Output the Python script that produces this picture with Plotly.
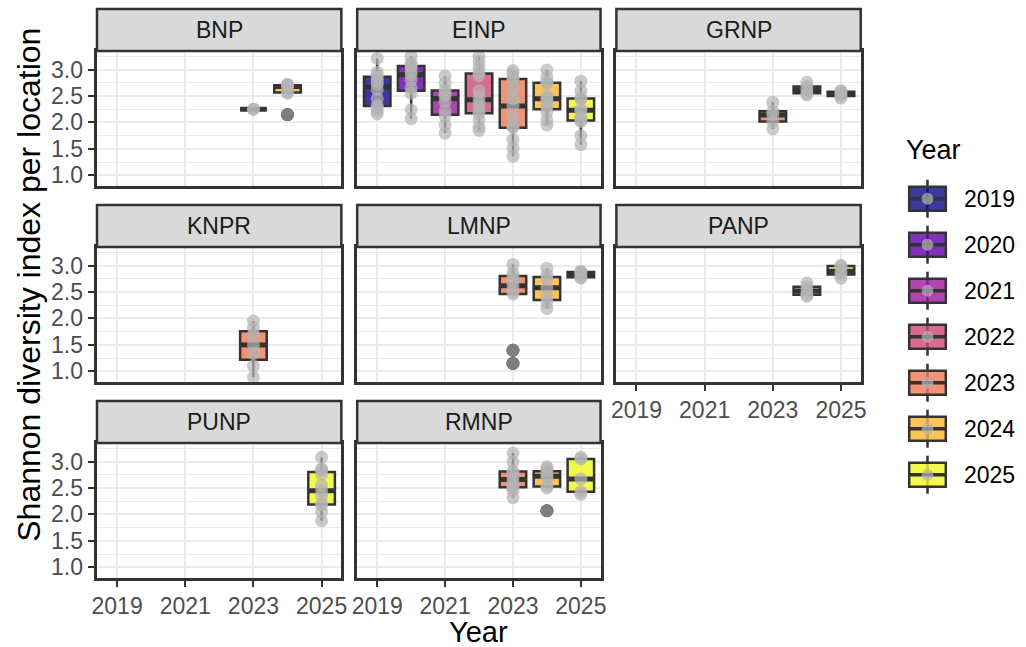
import numpy as np
import plotly.graph_objects as go

# ---- data: Shannon diversity index per sampling location, by park and year ----
YEARS = [2019, 2020, 2021, 2022, 2023, 2024, 2025]
PLASMA = ["#0D0887", "#5D01A6", "#9C179E", "#CC4678", "#ED7953", "#FDB32F", "#F0F921"]
PARKS = ["BNP", "EINP", "GRNP", "KNPR", "LMNP", "PANP", "PUNP", "RMNP"]
X_TICKS = [2019, 2021, 2023, 2025]
Y_TICKS = [1.0, 1.5, 2.0, 2.5, 3.0]

BNP = {2023: [2.25, 2.25],
       2024: [2.15, 2.55, 2.58, 2.68, 2.70, 2.71, 2.72]}
EINP = {2019: [3.21, 2.95, 2.90, 2.85, 2.78, 2.72, 2.62, 2.45, 2.32, 2.28, 2.22, 2.16],
        2020: [3.25, 3.12, 3.08, 3.05, 2.96, 2.90, 2.80, 2.65, 2.55, 2.24, 2.07],
        2021: [2.88, 2.75, 2.62, 2.55, 2.50, 2.40, 2.22, 2.12, 1.95, 1.80],
        2022: [3.25, 3.15, 3.05, 2.94, 2.88, 2.60, 2.48, 2.38, 2.30, 2.22, 2.16, 2.05, 1.92, 1.85],
        2023: [2.98, 2.93, 2.84, 2.82, 2.62, 2.45, 2.31, 2.10, 1.92, 1.90, 1.68, 1.52, 1.36],
        2024: [2.99, 2.85, 2.76, 2.74, 2.50, 2.45, 2.40, 2.30, 2.20, 2.05, 1.95],
        2025: [2.78, 2.60, 2.47, 2.44, 2.25, 2.23, 2.10, 2.05, 2.02, 1.75, 1.58]}
GRNP = {2023: [1.88, 2.02, 2.14, 2.21, 2.38],
        2024: [2.52, 2.55, 2.62, 2.68, 2.76],
        2025: [2.46, 2.50, 2.54, 2.58, 2.60]}
KNPR = {2023: [0.89, 1.10, 1.34, 1.50, 1.70, 1.82, 1.95]}
LMNP = {2023: [1.15, 1.40, 2.46, 2.51, 2.62, 2.70, 2.80, 2.86, 3.02],
        2024: [2.19, 2.30, 2.40, 2.58, 2.75, 2.82, 2.95],
        2025: [2.76, 2.78, 2.85, 2.88, 2.89]}
PANP = {2024: [2.42, 2.45, 2.52, 2.60, 2.67],
        2025: [2.76, 2.83, 2.89, 2.99, 3.00]}
PUNP = {2025: [1.88, 2.05, 2.18, 2.20, 2.35, 2.45, 2.55, 2.76, 2.84, 2.86, 3.08]}
RMNP = {2023: [2.32, 2.45, 2.50, 2.55, 2.62, 2.70, 2.78, 2.82, 2.99, 3.16],
        2024: [2.07, 2.50, 2.54, 2.70, 2.74, 2.80, 2.86, 2.90],
        2025: [2.38, 2.43, 2.67, 3.05, 3.08]}
SHANNON = {"BNP": BNP, "EINP": EINP, "GRNP": GRNP, "KNPR": KNPR,
           "LMNP": LMNP, "PANP": PANP, "PUNP": PUNP, "RMNP": RMNP}

# ---- styling ----
W, H = 1026, 647
FONT = "Liberation Sans, Arial, sans-serif"
DARK = "#333333"
GRID = "#EBEBEB"
TICK_TXT = "#4D4D4D"
POINT = "rgba(179,179,179,0.7)"
PT_SIZE = 13
BOX_W = 0.78
X_RANGE = [2018.41, 2025.58]
Y_RANGE = [0.80, 3.35]
COL_PX = [(93, 340), (356, 602), (618, 865)]
ROW_PX = [(51, 186), (247, 382), (443, 578)]
STRIP_H = 42
Y_LABEL_RIGHT = 81


def rgba(hex_color, a):
    h = hex_color.lstrip("#")
    r, g, b = int(h[0:2], 16), int(h[2:4], 16), int(h[4:6], 16)
    return f"rgba({r},{g},{b},{a})"


def px_x(px):
    return px / W


def px_y(py):
    return 1 - py / H


def box_stats(vals):
    """Tukey box statistics with R's default (type 7) quantiles."""
    v = np.asarray(vals, dtype=float)
    q1, med, q3 = np.percentile(v, [25, 50, 75])
    iqr = q3 - q1
    inside = v[(v >= q1 - 1.5 * iqr) & (v <= q3 + 1.5 * iqr)]
    outliers = v[(v < q1 - 1.5 * iqr) | (v > q3 + 1.5 * iqr)]
    return q1, med, q3, inside.min(), inside.max(), outliers


fig = go.Figure()
layout = dict(width=W, height=H, autosize=False,
              margin=dict(l=0, r=0, t=0, b=0),
              paper_bgcolor="white", plot_bgcolor="white",
              font=dict(family=FONT, color="black"),
              showlegend=False)
shapes, annotations = [], []

for k, park in enumerate(PARKS):
    r, c = divmod(k, 3)
    n = k + 1
    xa, ya = f"x{n}", f"y{n}"
    x0, x1 = COL_PX[c]
    y0, y1 = ROW_PX[r]
    show_x = (r == 2) or (r == 1 and c == 2)
    show_y = (c == 0)

    layout[f"xaxis{n}"] = dict(
        domain=[px_x(x0), px_x(x1)], anchor=ya, range=X_RANGE,
        tickvals=X_TICKS, showticklabels=show_x,
        ticks="outside" if show_x else "", ticklen=6, tickwidth=2, tickcolor=DARK,
        tickfont=dict(size=23, color=TICK_TXT, family=FONT),
        showgrid=True, gridcolor=GRID, gridwidth=2, zeroline=False,
        showline=True, mirror=True, linecolor=DARK, linewidth=2.5,
    )
    layout[f"yaxis{n}"] = dict(
        domain=[px_y(y1), px_y(y0)], anchor=xa, range=Y_RANGE,
        tickvals=Y_TICKS, showticklabels=False,
        ticks="outside" if show_y else "", ticklen=6, tickwidth=2, tickcolor=DARK,
        showgrid=True, gridcolor=GRID, gridwidth=2, zeroline=False,
        minor=dict(dtick=0.25, tick0=0.75, showgrid=True, gridcolor=GRID, gridwidth=1),
        showline=True, mirror=True, linecolor=DARK, linewidth=2.5,
    )
    # y tick labels placed on the axis scale, set a little away from the ticks
    if show_y:
        for v in Y_TICKS:
            annotations.append(dict(text=f"{v:.1f}", xref="paper", yref=ya,
                                    x=px_x(Y_LABEL_RIGHT), y=v, showarrow=False,
                                    xanchor="right", yanchor="middle",
                                    font=dict(size=23, color=TICK_TXT, family=FONT)))

    # facet strip
    shapes.append(dict(type="rect", xref="paper", yref="paper",
                       x0=px_x(x0), x1=px_x(x1), y0=px_y(y0), y1=px_y(y0 - STRIP_H),
                       fillcolor="#D9D9D9", line=dict(color=DARK, width=2.5), layer="above"))
    annotations.append(dict(text=park, xref="paper", yref="paper",
                            x=px_x((x0 + x1) / 2), y=px_y(y0 - STRIP_H / 2),
                            showarrow=False, xanchor="center", yanchor="middle",
                            font=dict(size=23, color="#1A1A1A", family=FONT)))

    for yr, vals in SHANNON[park].items():
        col = PLASMA[YEARS.index(yr)]
        q1, med, q3, lo, hi, outl = box_stats(vals)
        fig.add_trace(go.Box(
            x=[yr], q1=[q1], median=[med], q3=[q3], lowerfence=[lo], upperfence=[hi],
            xaxis=xa, yaxis=ya, width=BOX_W, whiskerwidth=0,
            fillcolor=rgba(col, 0.8), line=dict(color=DARK, width=2.5),
            hoverinfo="skip", showlegend=False))
        fig.add_trace(go.Scatter(
            x=[yr - BOX_W / 2, yr + BOX_W / 2], y=[med, med], xaxis=xa, yaxis=ya,
            mode="lines", line=dict(color=DARK, width=5),
            hoverinfo="skip", showlegend=False))
        if len(outl):
            fig.add_trace(go.Scatter(
                x=[yr] * len(outl), y=outl.tolist(), xaxis=xa, yaxis=ya, mode="markers",
                marker=dict(color="black", size=PT_SIZE, line=dict(width=0)),
                hoverinfo="skip", showlegend=False))
        fig.add_trace(go.Scatter(
            x=[yr] * len(vals), y=vals, xaxis=xa, yaxis=ya, mode="markers",
            marker=dict(color=POINT, size=PT_SIZE, line=dict(width=0)),
            hoverinfo="skip", showlegend=False))

# axis titles
annotations.append(dict(text="Year", xref="paper", yref="paper",
                        x=px_x((COL_PX[0][0] + COL_PX[2][1]) / 2), y=px_y(632),
                        showarrow=False, xanchor="center", yanchor="middle",
                        font=dict(size=29, color="black", family=FONT)))
annotations.append(dict(text="Shannon diversity index per location", xref="paper", yref="paper",
                        x=px_x(24), y=px_y(285), textangle=-90,
                        showarrow=False, xanchor="center", yanchor="middle",
                        font=dict(size=32, color="black", family=FONT)))

# legend: one boxplot key per year
annotations.append(dict(text="Year", xref="paper", yref="paper",
                        x=px_x(909), y=px_y(150), showarrow=False,
                        xanchor="left", yanchor="middle",
                        font=dict(size=27, color="black", family=FONT)))
for i, (yr, col) in enumerate(zip(YEARS, PLASMA)):
    cy = 198.7 + 46 * i
    kx0, kx1 = 914, 951
    kc = (kx0 + kx1) / 2
    shapes.append(dict(type="line", xref="paper", yref="paper",
                       x0=px_x(kc), x1=px_x(kc), y0=px_y(cy - 19), y1=px_y(cy + 19),
                       line=dict(color=DARK, width=2.5)))
    shapes.append(dict(type="rect", xref="paper", yref="paper",
                       x0=px_x(kx0), x1=px_x(kx1), y0=px_y(cy + 12), y1=px_y(cy - 12),
                       fillcolor=rgba(col, 0.8), line=dict(color=DARK, width=2.5)))
    shapes.append(dict(type="line", xref="paper", yref="paper",
                       x0=px_x(kx0), x1=px_x(kx1), y0=px_y(cy), y1=px_y(cy),
                       line=dict(color=DARK, width=3.5)))
    shapes.append(dict(type="circle", xref="paper", yref="paper",
                       x0=px_x(kc - 6), x1=px_x(kc + 6), y0=px_y(cy + 6), y1=px_y(cy - 6),
                       fillcolor=POINT, line=dict(width=0)))
    annotations.append(dict(text=str(yr), xref="paper", yref="paper",
                            x=px_x(967), y=px_y(cy), showarrow=False,
                            xanchor="left", yanchor="middle",
                            font=dict(size=23, color="black", family=FONT)))

layout["shapes"] = shapes
layout["annotations"] = annotations
fig.update_layout(**layout)
fig.write_html("out.html")
